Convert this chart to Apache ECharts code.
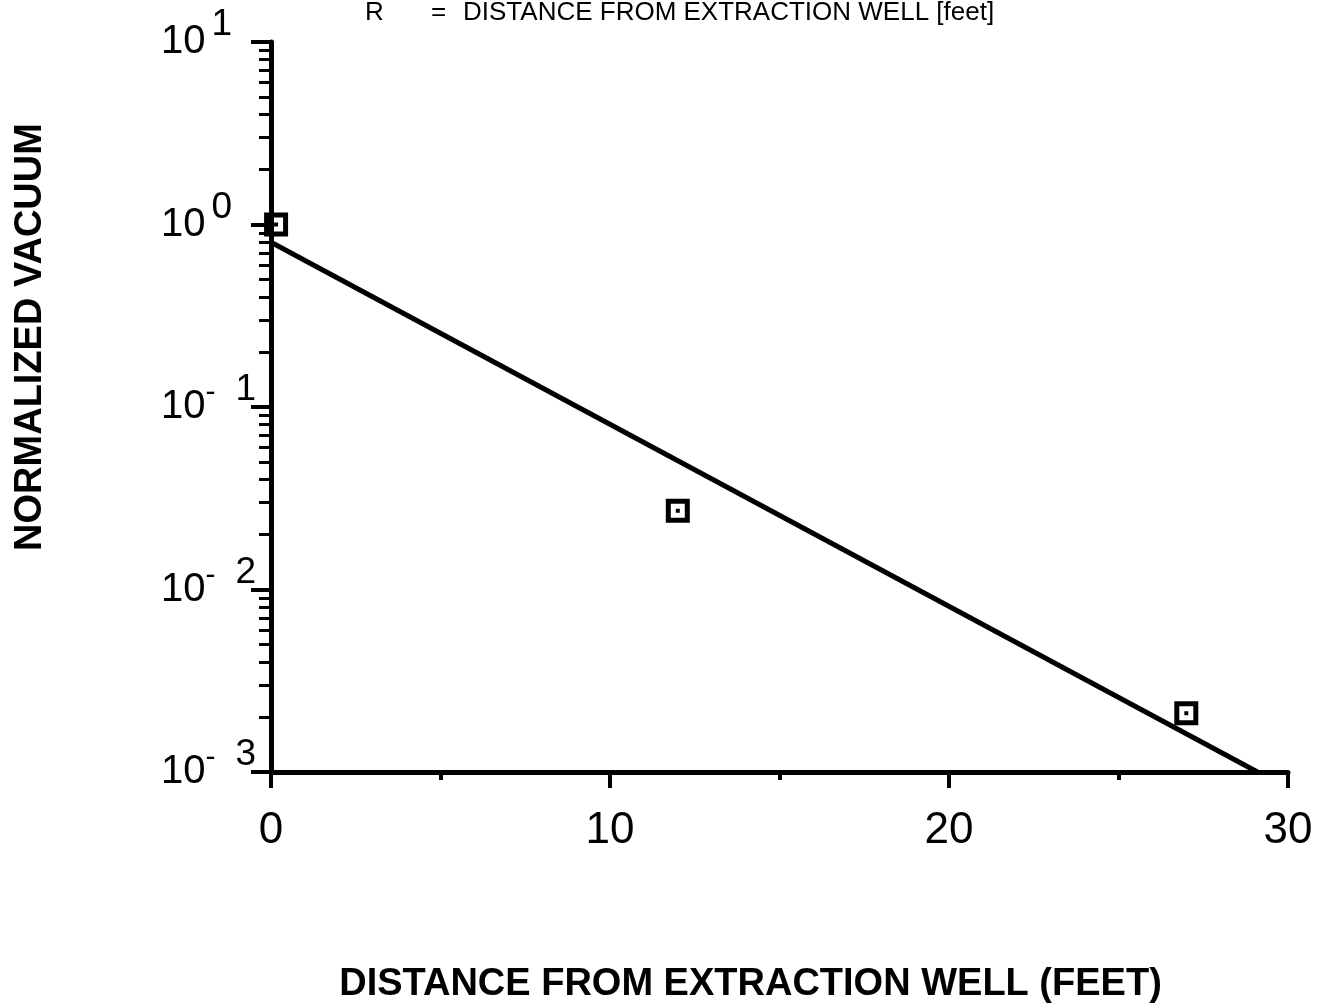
<!DOCTYPE html>
<html>
<head>
<meta charset="utf-8">
<script src="https://cdn.jsdelivr.net/npm/echarts@6/dist/echarts.min.js"></script>
<style>
  html, body { margin: 0; padding: 0; background: #fff; }
  #chart { width: 1332px; height: 1005px; }
</style>
</head>
<body>
<div id="chart"></div>
<script>
// Measured points: distance from extraction well (ft) vs normalized vacuum
const distances = [0.15, 12, 27];
const vacuum = [1.0, 0.027, 0.0021];

// Fitted exponential decay line (endpoints)
const fitDistances = [0, 29.1];
const fitVacuum = [0.8, 0.001];

// Axis settings
const xTicks = [0, 10, 20, 30];
const yDecades = [0.001, 0.01, 0.1, 1, 10];

const FONT = 'Liberation Sans, Arial, Helvetica, sans-serif';

const chart = echarts.init(document.getElementById('chart'));

// Square marker with a hollow centre and a dot
const markerPath = 'path://M0,0H24V24H0Z M5,5V19H19V5Z M10,10H14V14H10Z';

chart.setOption({
  backgroundColor: '#ffffff',
  animation: false,
  grid: { left: 271, right: 44, top: 42, bottom: 233, outerBoundsMode: 'none', containLabel: false },
  graphic: [
    { type: 'text', left: 365, top: 0, style: { text: 'R', font: '26px ' + FONT, fill: '#000' } },
    { type: 'text', left: 431, top: 0, style: { text: '=', font: '26px ' + FONT, fill: '#000' } },
    { type: 'text', left: 463, top: 0, style: { text: 'DISTANCE FROM EXTRACTION WELL [feet]', font: '26px ' + FONT, fill: '#000' } },
    {
      type: 'text', x: 31, y: 337, rotation: Math.PI / 2,
      style: { text: 'NORMALIZED VACUUM', font: 'bold 38px ' + FONT, fill: '#000', align: 'center', verticalAlign: 'middle' }
    }
  ],
  xAxis: {
    type: 'value',
    min: xTicks[0],
    max: xTicks[xTicks.length - 1],
    interval: 10,
    name: 'DISTANCE FROM EXTRACTION WELL (FEET)',
    nameLocation: 'middle',
    nameGap: 194,
    nameTextStyle: { fontFamily: FONT, fontWeight: 'bold', fontSize: 38, color: '#000', padding: [0, 58, 0, 0] },
    axisLine: { lineStyle: { color: '#000', width: 5 } },
    axisTick: { show: true, inside: false, length: 16, lineStyle: { color: '#000', width: 4 } },
    minorTick: { show: true, splitNumber: 2, length: 8, lineStyle: { color: '#000', width: 4 } },
    axisLabel: { fontFamily: FONT, fontSize: 44, color: '#000', margin: 37 },
    splitLine: { show: false }
  },
  yAxis: {
    type: 'log',
    logBase: 10,
    min: yDecades[0],
    max: yDecades[yDecades.length - 1],
    axisLine: { onZero: false, lineStyle: { color: '#000', width: 5 } },
    axisTick: { show: true, inside: false, length: 20, lineStyle: { color: '#000', width: 4 } },
    minorTick: { show: true, splitNumber: 9, length: 12, lineStyle: { color: '#000', width: 3 } },
    splitLine: { show: false },
    axisLabel: {
      margin: 110,
      align: 'left',
      formatter: function (v) {
        const e = Math.round(Math.log10(v));
        if (e >= 0) return '{b|10}{e|' + e + '}';
        return '{b|10}{m|-}{e|' + (-e) + '}';
      },
      rich: {
        b: { fontFamily: FONT, fontSize: 40, color: '#000' },
        m: { fontFamily: FONT, fontSize: 30, color: '#000', padding: [0, 14, 28, 0] },
        e: { fontFamily: FONT, fontSize: 37, color: '#000', padding: [0, 0, 34, 6] }
      }
    }
  },
  series: [
    {
      type: 'line',
      data: fitDistances.map((d, i) => [d, fitVacuum[i]]),
      showSymbol: false,
      lineStyle: { color: '#000', width: 5 },
      z: 2
    },
    {
      type: 'scatter',
      data: distances.map((d, i) => [d, vacuum[i]]),
      symbol: markerPath,
      symbolSize: 24,
      itemStyle: { color: '#000', opacity: 1 },
      z: 3
    }
  ]
});
</script>
</body>
</html>
